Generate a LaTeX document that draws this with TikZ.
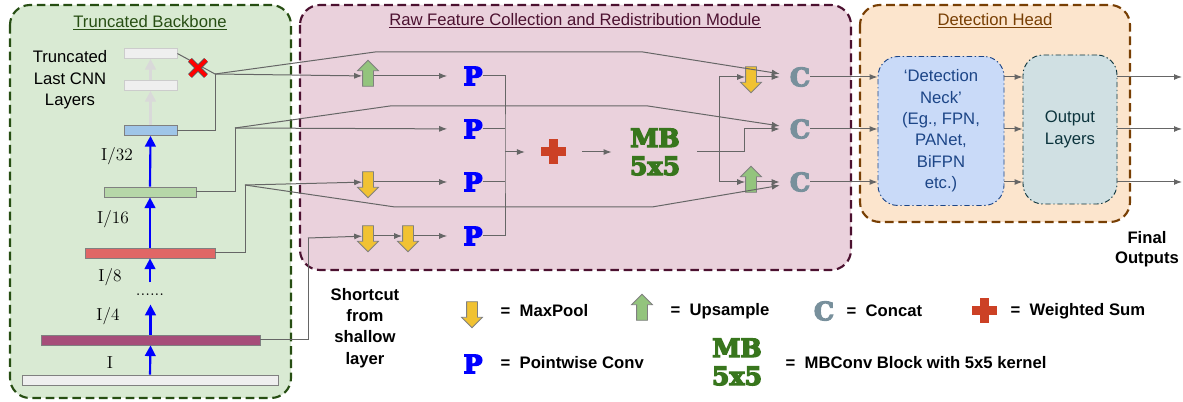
\documentclass[tikz,border=0pt]{standalone}
\usepackage{fontspec}
\newfontfamily\arial{Liberation Sans}
\newfontfamily\heavy{DejaVu Serif Bold}[FakeBold=5]
\usetikzlibrary{arrows.meta,shapes.arrows}

\definecolor{backfill}{HTML}{D9EAD3}
\definecolor{backdraw}{HTML}{274E13}
\definecolor{modfill}{HTML}{EAD1DC}
\definecolor{moddraw}{HTML}{4C1130}
\definecolor{headfill}{HTML}{FCE5CD}
\definecolor{headdraw}{HTML}{783F04}
\definecolor{neckfill}{HTML}{C9DAF8}
\definecolor{neckdraw}{HTML}{1C4587}
\definecolor{outfill}{HTML}{D0E0E3}
\definecolor{outdraw}{HTML}{0C343D}
\definecolor{linegray}{HTML}{666666}
\definecolor{pblue}{HTML}{0000FF}
\definecolor{cgray}{HTML}{78909C}
\definecolor{mbgreen}{HTML}{38761D}
\definecolor{plusred}{HTML}{CC4125}
\definecolor{poolfill}{HTML}{F1C232}
\definecolor{upfill}{HTML}{93C47D}
\definecolor{cutfill}{HTML}{EFEFEF}
\definecolor{cutdraw}{HTML}{CCCCCC}
\definecolor{cutarrow}{HTML}{D9D9D9}
\definecolor{quarter}{HTML}{A64D79}
\definecolor{eighth}{HTML}{E06666}
\definecolor{sixteenth}{HTML}{B6D7A8}
\definecolor{thirtysecond}{HTML}{9FC5E8}

\begin{document}
\begin{tikzpicture}[x = 0.75pt, y = -0.75pt,
    link/.style = {draw = linegray, line width = 0.75pt},
    flow/.style = {link, -{Latex[length = 6pt, width = 4.5pt]}},
    stage/.style = {line width = 1.6pt, dash pattern = on 6.5pt off 3.5pt, rounded corners = 15pt},
    layer/.style = {draw = gray, line width = 0.6pt, minimum height = 7.5pt, inner sep = 0pt},
    cutlayer/.style = {layer, fill = cutfill, draw = cutdraw, minimum width = 39.75pt},
    stride/.style = {draw = blue, line width = 1.6pt, -{Triangle[length = 8pt, width = 8pt]}},
    cutstride/.style = {stride, draw = cutarrow},
    ratio/.style = {font = \fontsize{13}{16}\selectfont},
    title/.style = {font = \arial\fontsize{12.5}{15}\selectfont},
    sans/.style = {font = \arial\fontsize{12.5}{16}\selectfont, align = center},
    keytext/.style = {font = \arial\bfseries\fontsize{12.5}{16}\selectfont, anchor = west},
    pconv/.style = {font = \heavy\fontsize{19}{19}\selectfont, text = pblue, inner sep = 0pt},
    concat/.style = {pconv, text = cgray},
    mbconv/.style = {font = \heavy\fontsize{19}{21}\selectfont, text = mbgreen, align = center, inner sep = 0pt},
    wsum/.style = {minimum size = 18.75pt, inner sep = 0pt},
    maxpool/.style = {single arrow, shape border rotate = 270, draw = gray, line width = 0.6pt, fill = poolfill,
        minimum height = 19.5pt, minimum width = 15pt, single arrow head extend = 3.75pt, inner sep = 3.75pt},
    upsample/.style = {maxpool, shape border rotate = 90, fill = upfill},
    headbox/.style = {line width = 0.7pt, dash pattern = on 4pt off 2pt on 1pt off 2pt, rounded corners = 15pt,
        minimum height = 111.75pt, align = center, font = \arial\fontsize{12.5}{16}\selectfont}]

\useasboundingbox (0,0) rectangle (1183,402);

% three stages
\draw[stage, draw = backdraw, fill = backfill] (10,5) rectangle (291,398);
\draw[stage, draw = moddraw, fill = modfill] (300,5) rectangle (851,270);
\draw[stage, draw = headdraw, fill = headfill] (860,5) rectangle (1130,222);
\node[title, text = backdraw] at (150,23) {\underline{Truncated Backbone}};
\node[title, text = moddraw] at (575,21) {\underline{Raw Feature Collection and Redistribution Module}};
\node[title, text = headdraw] at (995,21) {\underline{Detection Head}};

% backbone
\node[layer, fill = cutfill, minimum width = 192pt] (in) at (150,380) {};
\node[layer, fill = quarter, minimum width = 164.25pt] (l4) at (150.5,340) {};
\node[layer, fill = eighth, minimum width = 97.5pt] (l8) at (150,253) {};
\node[layer, fill = sixteenth, minimum width = 69pt] (l16) at (150,192) {};
\node[layer, fill = thirtysecond, minimum width = 39.75pt] (l32) at (150.5,130.5) {};
\node[cutlayer] (t1) at (150.5,85.5) {};
\node[cutlayer] (t2) at (150.5,53.5) {};

\draw[stride] (in.north) -- (l4.south);
\draw[stride] (l4.north) -- ++(0,-30);
\draw[stride] (l8.south) ++(0,24) -- (l8.south);
\draw[stride] (l8.north) -- (l16.south);
\draw[stride] (l16.north) -- (l32.south);
\draw[cutstride] (l32.north) -- (t1.south);
\draw[cutstride] (t1.north) -- (t2.south);

\node[ratio] at (110,363) {I};
\node[ratio] at (108,316) {I/4};
\node[ratio] at (150,295) {......};
\node[ratio] at (110,277) {I/8};
\node[ratio] at (113,219) {I/16};
\node[ratio] at (117,156) {I/32};
\node[sans] at (70,80) {Truncated\\Last CNN\\Layers};

% module
\node[upsample] (us1) at (368,76) {};
\node[maxpool] (mp3) at (368,182) {};
\node[maxpool] (mp4a) at (368,236) {};
\node[maxpool] (mp4b) at (408,236) {};
\node[pconv] (p1) at (473,76) {P};
\node[pconv] (p2) at (473,129) {P};
\node[pconv] (p3) at (473,182) {P};
\node[pconv] (p4) at (473,236) {P};
\node[wsum] (sum) at (553,152) {};
\node[mbconv] (mb) at (655,152) {MB\\5x5};
\node[maxpool] (mp1) at (751,77) {};
\node[upsample] (us3) at (751,182) {};
\node[concat] (c1) at (800,77) {C};
\node[concat] (c2) at (800,129) {C};
\node[concat] (c3) at (800,182) {C};

\coordinate (j32) at (215,74);
\coordinate (j16) at (235,128);
\coordinate (j8) at (245,185);
\coordinate (j4) at (308,238);
\coordinate (pbus) at (505,152);
\coordinate (mbus) at (719,152);

\draw[link] (t2.east) -- (j32);
\draw[link] (l32.east) -| (j32);
\draw[flow, shorten >= 7.5pt] (j32) -- (375,52) -- (643,52) -- (c1);
\draw[flow] (j32) -- (us1);
\draw[flow, shorten >= 12pt] (us1) -- (p1);

\draw[link] (l16.east) -| (j16);
\draw[flow, shorten >= 7.5pt] (j16) -- (390,106) -- (648,106) -- (c2);
\draw[flow, shorten >= 12pt] (j16) -- (p2);

\draw[link] (l8.east) -| (j8);
\draw[flow] (j8) -- (mp3);
\draw[flow, shorten >= 12pt] (mp3) -- (p3);
\draw[flow, shorten >= 7.5pt] (j8) -- (395,207) -- (652,207) -- (c3);

\draw[link] (l4.east) -| (j4);
\draw[flow] (j4) -- (mp4a);
\draw[flow] (mp4a) -- (mp4b);
\draw[flow, shorten >= 12pt] (mp4b) -- (p4);

\draw[link] (p1.east) -| (pbus) |- (p4.east);
\draw[link] (p2.east) -- (p2.east -| pbus);
\draw[link] (p3.east) -- (p3.east -| pbus);
\draw[flow, shorten >= 11.5pt] (pbus) -- (sum);
\draw[flow, shorten <= 12.5pt, shorten >= 13.5pt] (sum) -- (mb);
\draw[flow, shorten <= 12.5pt, shorten >= 7.5pt] (mb.east) -- (744,152) |- (c2);
\draw[flow] (mbus) |- (mp1);
\draw[flow] (mbus) |- (us3);
\draw[flow, shorten >= 7.5pt] (mp1) -- (c1);
\draw[flow, shorten >= 7.5pt] (us3) -- (c3);

% weighted sum and cut mark
\fill[plusred] ([shift = {(-12.5,-4.5)}]sum.center) rectangle ++(25,9);
\fill[plusred] ([shift = {(-4.5,-12.5)}]sum.center) rectangle ++(9,25);
\draw[line width = 4.2pt, gray!70!black] (190,60) -- (206,76) (206,60) -- (190,76);
\draw[line width = 2.8pt, red] (190,60) -- (206,76) (206,60) -- (190,76);

% detection head
\node[headbox, draw = neckdraw, fill = neckfill, text = neckdraw, minimum width = 94.5pt] (neck) at (941,131)
    {‘Detection\\Neck’\\(Eg., FPN,\\PANet,\\BiFPN\\etc.)};
\node[headbox, draw = outdraw, fill = outfill, text = outdraw, minimum width = 70.5pt] (outl) at (1070,129.5)
    {Output\\Layers};
\coordinate (edge) at (1182,129);

\draw[flow] (c1) -- (c1 -| neck.west);
\draw[flow] (c2) -- (c2 -| neck.west);
\draw[flow] (c3) -- (c3 -| neck.west);
\draw[flow] (c1 -| neck.east) -- (c1 -| outl.west);
\draw[flow] (c2 -| neck.east) -- (c2 -| outl.west);
\draw[flow] (c3 -| neck.east) -- (c3 -| outl.west);
\draw[flow] (c1 -| outl.east) -- (c1 -| edge);
\draw[flow] (c2 -| outl.east) -- (c2 -| edge);
\draw[flow] (c3 -| outl.east) -- (c3 -| edge);

\node[sans, font = \arial\bfseries\fontsize{12.5}{15}\selectfont] at (1147,249) {Final\\Outputs};
\node[sans, font = \arial\bfseries\fontsize{12.5}{16}\selectfont] at (365,328) {Shortcut\\from\\shallow\\layer};

% legend
\node[maxpool] (kpool) at (472,312) {};
\node[keytext] at (496,311) {=\ \ MaxPool};
\node[upsample] (kup) at (642,310) {};
\node[keytext] at (666,311) {=\ \ Upsample};
\node[concat] (kcat) at (824,311) {C};
\node[keytext] at (842,311) {=\ \ Concat};
\node[wsum] (ksum) at (984,311) {};
\fill[plusred] ([shift = {(-12.5,-4.5)}]ksum.center) rectangle ++(25,9);
\fill[plusred] ([shift = {(-4.5,-12.5)}]ksum.center) rectangle ++(9,25);
\node[keytext] at (1006,311) {=\ \ Weighted Sum};
\node[pconv] (kp) at (473,364) {P};
\node[keytext] at (496,363) {=\ \ Pointwise Conv};
\node[mbconv] (kmb) at (737,362) {MB\\5x5};
\node[keytext] at (781,363) {=\ \ MBConv Block with 5x5 kernel};
\end{tikzpicture}
\end{document}
